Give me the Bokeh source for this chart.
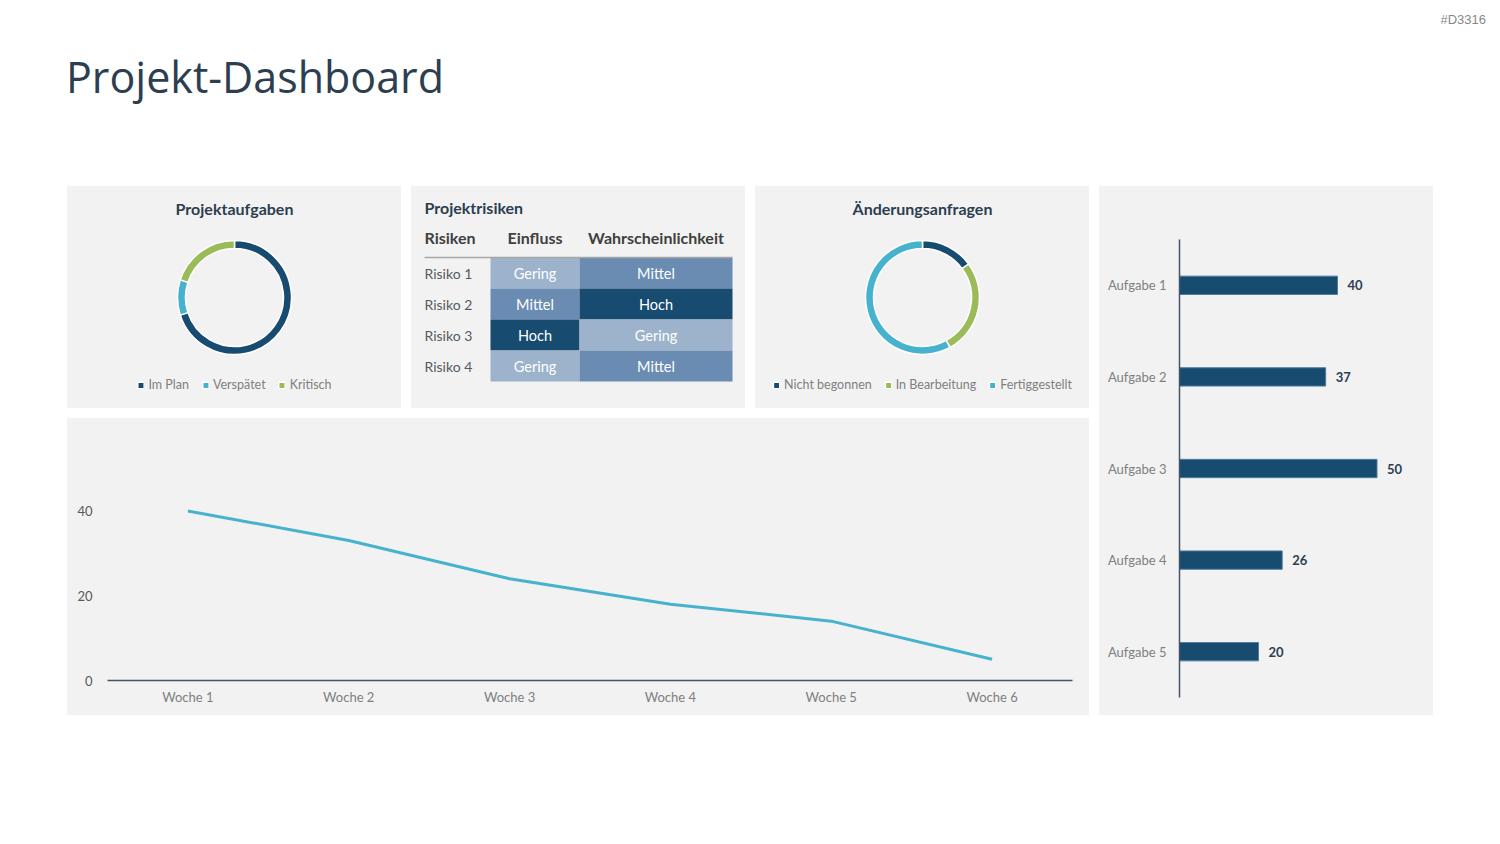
import math
from bokeh.plotting import figure
from bokeh.models import (ColumnDataSource, Range1d, FactorRange, Label, Div, Spacer, FixedTicker)
from bokeh.layouts import row, column
from bokeh.core.properties import value
from bokeh.embed import file_html
from bokeh.resources import INLINE

# ---------------- data ----------------
task_status = ["Im Plan", "Verspätet", "Kritisch"]
task_status_values = [70, 10, 20]

change_status = ["Nicht begonnen", "In Bearbeitung", "Fertiggestellt"]
change_status_values = [15, 27, 58]

risk_columns = ["Risiken", "Einfluss", "Wahrscheinlichkeit"]
risks = ["Risiko 1", "Risiko 2", "Risiko 3", "Risiko 4"]
risk_impact = ["Gering", "Mittel", "Hoch", "Gering"]
risk_probability = ["Mittel", "Hoch", "Gering", "Mittel"]

weeks = ["Woche 1", "Woche 2", "Woche 3", "Woche 4", "Woche 5", "Woche 6"]
open_tasks = [40, 33, 24, 18, 14, 5]
open_ticks = [0, 20, 40]

tasks = ["Aufgabe 1", "Aufgabe 2", "Aufgabe 3", "Aufgabe 4", "Aufgabe 5"]
workload = [40, 37, 50, 26, 20]

# ---------------- style ----------------
BG = "#F2F2F2"
NAVY = "#174B6F"
LBLUE = "#47B2CE"
GREEN = "#9BBB59"
GERING = "#9CB3CB"
MITTEL = "#6A8CB2"
HEAD = "#2C3E50"
GRAY = "#7F7F7F"
DGRAY = "#595959"
AXIS = "#44546A"
FONT = "Lato"
level_colors = {"Gering": GERING, "Mittel": MITTEL, "Hoch": NAVY}


def base_fig(w, h, **kw):
    p = figure(width=w, height=h, output_backend="svg", toolbar_location=None,
               background_fill_color=None, border_fill_color=None, outline_line_color=None,
               styles={"background-color": BG}, **kw)
    return p


def heading(p, text, x, y, align="center"):
    p.add_layout(Label(x=x, y=y, x_units="screen", y_units="screen", text=text,
                       text_align=align, text_baseline="middle", text_font=FONT,
                       text_font_style="bold", text_font_size="16px", text_color=HEAD))


def donut(title, labels, values, colors):
    p = base_fig(334, 222, x_range=Range1d(-167, 167), y_range=Range1d(-111, 111),
                 x_axis_location=None, y_axis_location=None, min_border=0)
    p.grid.visible = False
    total = float(sum(values))
    starts, ends = [], []
    cum = 0.0
    for v in values:
        starts.append(math.pi / 2 - 2 * math.pi * cum / total)
        cum += v
        ends.append(math.pi / 2 - 2 * math.pi * cum / total)
    src = ColumnDataSource(dict(label=labels, value=values, start=starts, end=ends, color=colors))
    p.annular_wedge(x=0, y=0, inner_radius=49, outer_radius=57,
                    inner_radius_units="screen", outer_radius_units="screen",
                    start_angle="start", end_angle="end", direction="clock",
                    fill_color="color", line_color="white", line_width=1.5,
                    source=src, legend_field="label")
    lg = p.legend[0]
    lg.location = "bottom_center"
    lg.orientation = "horizontal"
    lg.label_text_font = FONT
    lg.label_text_font_size = "12.5px"
    lg.label_text_color = GRAY
    lg.glyph_width = 8
    lg.glyph_height = 8
    lg.label_standoff = 4
    lg.spacing = 12
    lg.padding = 0
    lg.margin = 16
    lg.label_height = 14
    lg.background_fill_alpha = 0
    lg.border_line_color = None
    heading(p, title, 167, 200)
    return p


p1 = donut("Projektaufgaben", task_status, task_status_values, [NAVY, LBLUE, GREEN])
p3 = donut("Änderungsanfragen", change_status, change_status_values, [NAVY, GREEN, LBLUE])

# ---------------- risk table ----------------
p2 = base_fig(334, 222, x_range=Range1d(0, 334), y_range=Range1d(222, 0),
              x_axis_location=None, y_axis_location=None, min_border=0)
p2.grid.visible = False
col_edges = [79, 168, 321]
row_top, row_h, left_pad = 71, 31, 13
cells = dict(left=[], right=[], top=[], bottom=[], color=[], text=[], xc=[], yc=[])
for i, (imp, prob) in enumerate(zip(risk_impact, risk_probability)):
    for j, lvl in enumerate([imp, prob]):
        t = row_top + i * row_h
        cells["left"].append(col_edges[j]); cells["right"].append(col_edges[j + 1])
        cells["top"].append(t); cells["bottom"].append(t + row_h)
        cells["color"].append(level_colors[lvl]); cells["text"].append(lvl)
        cells["xc"].append((col_edges[j] + col_edges[j + 1]) / 2); cells["yc"].append(t + row_h / 2)
csrc = ColumnDataSource(cells)
p2.quad(left="left", right="right", top="top", bottom="bottom", fill_color="color",
        line_color=None, source=csrc)
p2.text(x="xc", y="yc", text="text", source=csrc, text_align="center", text_baseline="middle",
        text_font=value(FONT), text_font_size="14.5px", text_color="white")
p2.text(x=[left_pad] * len(risks), y=[row_top + (i + 0.5) * row_h for i in range(len(risks))],
        text=risks, text_align="left", text_baseline="middle",
        text_font=value(FONT), text_font_size="14px", text_color=DGRAY)
hdr_x = [left_pad, (col_edges[0] + col_edges[1]) / 2, (col_edges[1] + col_edges[2]) / 2]
p2.text(x=hdr_x, y=[51] * 3, text=risk_columns, text_align=["left", "center", "center"],
        text_baseline="middle", text_font=value(FONT), text_font_style="bold",
        text_font_size="16px", text_color="#404040")
p2.segment(x0=[left_pad], y0=[row_top], x1=[col_edges[2]], y1=[row_top], line_color="#A6A6A6", line_width=1.5)
heading(p2, "Projektrisiken", left_pad, 201, align="left")

# ---------------- line chart ----------------
p4 = base_fig(1022, 297, x_range=FactorRange(*weeks), y_range=Range1d(0, 50),
              min_border_left=40, min_border_right=17, min_border_top=50, min_border_bottom=35)
p4.grid.visible = False
p4.line(x=weeks, y=open_tasks, line_color=LBLUE, line_width=3)
xa = p4.xaxis[0]
xa.axis_line_color = AXIS
xa.axis_line_width = 1.5
xa.major_tick_line_color = None
xa.minor_tick_line_color = None
xa.major_tick_out = 0
xa.major_tick_in = 0
xa.major_label_standoff = 8
xa.major_label_text_font = FONT
xa.major_label_text_font_size = "13px"
xa.major_label_text_color = GRAY
ya = p4.yaxis[0]
ya.ticker = FixedTicker(ticks=open_ticks)
ya.axis_line_color = None
ya.major_tick_line_color = None
ya.minor_tick_line_color = None
ya.major_tick_out = 0
ya.major_tick_in = 0
ya.major_label_standoff = 15
ya.major_label_text_font = FONT
ya.major_label_text_font_size = "13px"
ya.major_label_text_color = DGRAY
heading(p4, "Offene Aufgaben", 471, 243)

# ---------------- bar chart ----------------
p5 = base_fig(334, 529, x_range=Range1d(0, 60), y_range=FactorRange(*reversed(tasks)),
              x_axis_location=None,
              min_border_left=80, min_border_right=17, min_border_top=53, min_border_bottom=18)
p5.grid.visible = False
p5.hbar(y=tasks, right=workload, height=0.2, fill_color=NAVY, line_color="#4F7CA0", line_width=1)
p5.text(x=workload, y=tasks, text=[str(v) for v in workload], x_offset=10,
        text_align="left", text_baseline="middle", text_font=value(FONT),
        text_font_style="bold", text_font_size="13px", text_color=HEAD)
ba = p5.yaxis[0]
ba.axis_line_color = AXIS
ba.axis_line_width = 1.5
ba.major_tick_line_color = None
ba.minor_tick_line_color = None
ba.major_tick_out = 0
ba.major_tick_in = 0
ba.major_label_standoff = 13
ba.major_label_text_font = FONT
ba.major_label_text_font_size = "13px"
ba.major_label_text_color = GRAY
heading(p5, "Workload pro Aufgabe", 87, 489)

# ---------------- page ----------------
header = Div(width=1500, height=186, margin=0, text=(
    '<div style="position:relative;width:1500px;height:186px;">'
    '<div style="position:absolute;left:66px;top:47px;font-family:\'Open Sans\';font-size:43px;'
    'line-height:normal;color:#2C3E50;white-space:nowrap;">Projekt-Dashboard</div>'
    '<div style="position:absolute;right:14px;top:12px;font-family:\'Liberation Sans\';font-size:13px;'
    'line-height:normal;color:#888888;">#D3316</div></div>'))

left_col = column(row(p1, p2, p3, spacing=10), p4, spacing=10)
main = row(Spacer(width=57, height=10), left_col, p5, spacing=10)
root = column(header, main, spacing=0)

open("out.html", "w").write(file_html(root, INLINE, title="Projekt-Dashboard"))
